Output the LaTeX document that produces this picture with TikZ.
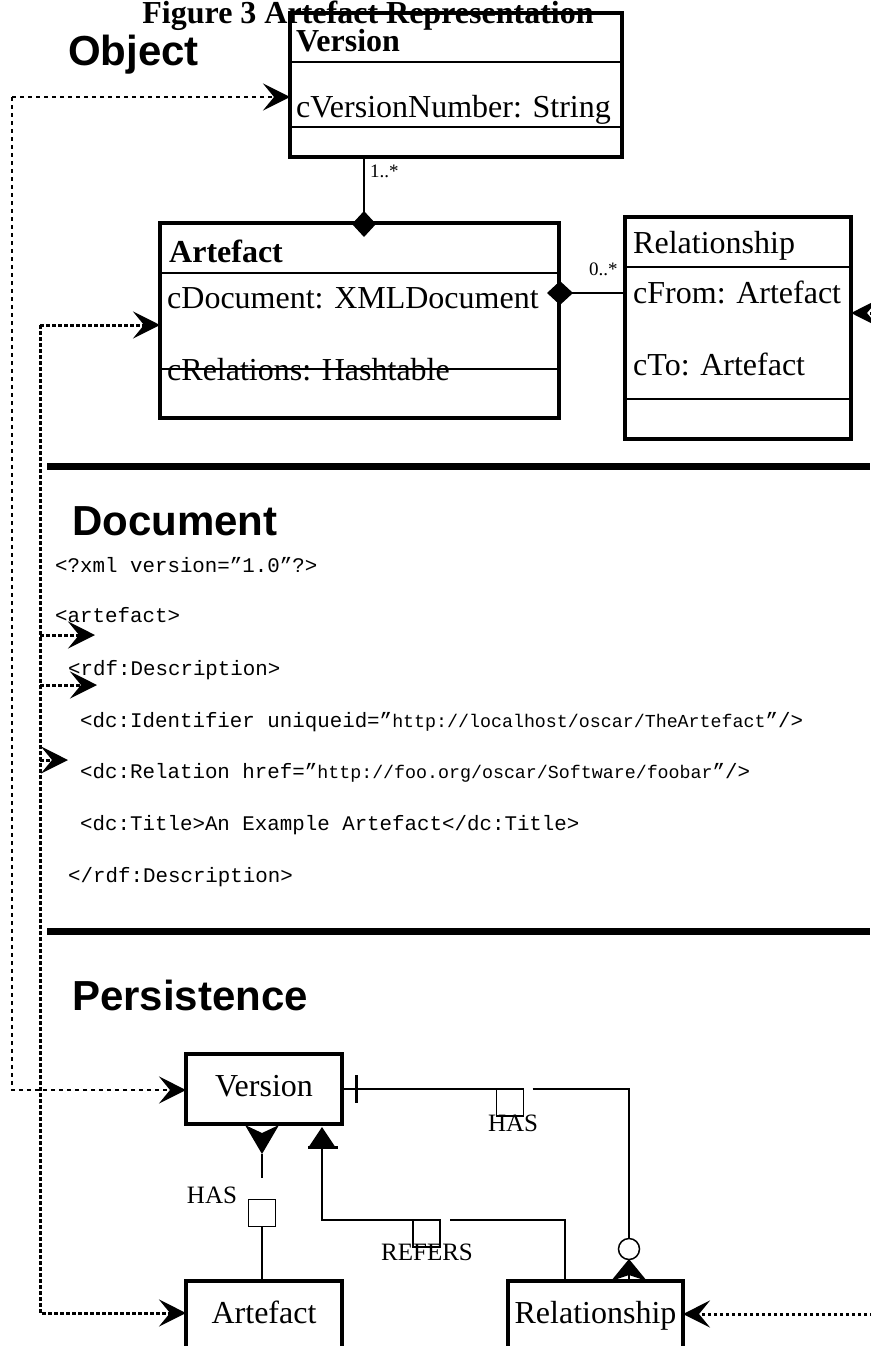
\documentclass[tikz,border=0pt]{standalone}
\usepackage{fontspec}
\setmainfont{Liberation Serif}
\setsansfont{Liberation Sans}
\setmonofont{Liberation Mono}
\usetikzlibrary{arrows.meta,calc}

\newcommand\clsfont{\fontsize{32}{38}\selectfont}
\newcommand\hdrfont{\fontsize{42}{50}\selectfont\sffamily\bfseries}
\newcommand\codefont{\fontsize{20.8}{25}\selectfont\ttfamily}
\newcommand\linkfont{\fontsize{18.3}{22}\selectfont}
\newcommand\lblfont{\fontsize{25}{30}\selectfont}
\newcommand\multfont{\fontsize{19}{23}\selectfont}

\begin{document}
\begin{tikzpicture}[
    x=1pt, y=-1pt,
    cls/.style={draw, line width=3.5pt, anchor=north west, inner sep=0pt, outer sep=0pt},
    sep/.style={line width=2.5pt},
    ent/.style={draw, line width=3.5pt, inner sep=0pt, outer sep=0pt, minimum height=70pt,
                text height=22pt, text depth=7pt, font=\clsfont},
    sq/.style={draw, line width=1.5pt, minimum size=27pt, inner sep=0pt, outer sep=0pt},
    txt/.style={anchor=base west, inner sep=0pt, font=\clsfont},
    hdr/.style={anchor=base west, inner sep=0pt, font=\hdrfont},
    code/.style={anchor=base west, inner sep=0pt, font=\codefont},
    lbl/.style={anchor=base, inner sep=0pt, font=\lblfont},
    mult/.style={anchor=base west, inner sep=0pt, font=\multfont},
    link/.style={line width=2pt},
    comp/.style={line width=2.5pt, -{Diamond[length=26pt, width=24pt]}},
    arr/.style={-{Stealth[length=27pt, width=27pt, inset=11pt]}},
    dashA/.style={line width=2pt, dash pattern=on 4pt off 4pt},
    dotB/.style={line width=3pt, dash pattern=on 3.5pt off 2.5pt}
]
\useasboundingbox (0,0) rectangle (870,1346);

\node[anchor=base, inner sep=0pt, font=\clsfont\bfseries] (title) at (368,24) {Figure 3 Artefact Representation};

% object layer
\node[hdr] (hobj) at (68,66) {Object};
\node[cls, minimum width=332pt, minimum height=144pt] (vobj) at (290,13) {};
\node[cls, minimum width=399pt, minimum height=195pt] (aobj) at (160,223) {};
\node[cls, minimum width=226pt, minimum height=222pt] (robj) at (625,217) {};
\foreach \b/\y in {vobj/62, vobj/127, aobj/273, aobj/369, robj/267, robj/399}
  \draw[sep] (\b.west |- 0,\y) -- (\b.east |- 0,\y);

\node[txt, font=\clsfont\bfseries] (vname) at (296,52) {Version};
\node[txt] (vattr) at (296,117) {cVersionNumber: String};
\node[txt, font=\clsfont\bfseries] (aname) at (169,262) {Artefact};
\node[txt] (adoc) at (167,308) {cDocument: XMLDocument};
\node[txt] (arel) at (167,380) {cRelations: Hashtable};
\node[txt] (rname) at (633,253) {Relationship};
\node[txt] (rfrom) at (633,303) {cFrom: Artefact};
\node[txt] (rto) at (633,375) {cTo: Artefact};

\node[mult] (m1) at (370,177) {1..*};
\node[mult] (m2) at (589,275) {0..*};

\draw[comp] ([xshift=74pt]vobj.south west) -- ++(0,80);
\draw[comp] (robj.west |- 0,293) -- ++(-78,0);

% document layer
\draw[line width=7pt] (47,466) -- (870,466);
\node[hdr] (hdoc) at (72,535) {Document};
\node[code] (x1) at (55,572) {<?xml version=”1.0”?>};
\node[code] (x2) at (55,622) {<artefact>};
\node[code] (x3) at (68,675) {<rdf:Description>};
\node[code] (x4) at (80,727) {<dc:Identifier uniqueid=”{\linkfont http://localhost/oscar/TheArtefact}”/>};
\node[code] (x5) at (80,778) {<dc:Relation href=”{\linkfont http://foo.org/oscar/Software/foobar}”/>};
\node[code] (x6) at (80,830) {<dc:Title>An Example Artefact</dc:Title>};
\node[code] (x7) at (68,882) {</rdf:Description>};
\draw[line width=7pt] (47,931) -- (870,931);

% persistence layer
\node[hdr] (hper) at (72,1010) {Persistence};
\node[ent, minimum width=156pt] (pver) at (264,1089) {Version};
\node[ent, minimum width=156pt] (part) at (264,1316) {Artefact};
\node[ent, minimum width=175pt] (prel) at (595.5,1316) {Relationship};

\node[sq] (sqa) at (262,1213) {};
\node[sq] (sqb) at (510,1102.5) {};
\node[sq] (sqc) at (426.5,1233.5) {};
\node[circle, draw, line width=1.5pt, minimum size=21pt, inner sep=0pt] (oc) at (629,1249) {};

\node[lbl] (la) at (212,1203) {HAS};
\node[lbl] (lb) at (513,1131) {HAS};
\node[lbl] (lc) at (427,1260) {REFERS};

% version has artefacts
\draw[link] (part.north -| sqa) -- (sqa.south);
\draw[link] ([yshift=22pt]sqa.north) -- ([yshift=-30pt]pver.south -| sqa);
\fill (pver.south -| sqa) ++(0,30) -- ++(-17,-29) -- ++(17,8) -- ++(17,-8) -- cycle;

% version has relationships
\draw[link] (pver.east) -- (sqb.north west);
\draw[line width=3pt] ([xshift=14pt]pver.east) ++(0,-14) -- ++(0,28);
\draw[link] ([xshift=9pt]sqb.north east) -| (oc.north);
\draw[link] (oc.south) -- (prel.north -| oc);
\fill (prel.north -| oc) ++(0,-22) -- ++(-18,22) -- ++(18,-6) -- ++(18,6) -- cycle;

% relationship refers to version
\draw[link] ([xshift=-30.5pt]prel.north) |- ([xshift=10pt]sqc.north east);
\draw[link] (sqc.north west) -| ([xshift=58pt, yshift=-24pt]pver.south);
\fill ([xshift=58pt, yshift=-3pt]pver.south) -- ++(-14,21) -- ++(28,0) -- cycle;
\draw[line width=3pt] ([xshift=44pt, yshift=-23pt]pver.south) -- ++(30,0);

% mappings between layers
\coordinate (ta) at (12,97);
\coordinate (tb) at (12,1090);
\draw[dashA, arr] (ta) -- (ta -| vobj.west);
\draw[dashA, arr] (ta) -- (tb) -- (tb -| pver.west);

\coordinate (sa) at (40,325);
\coordinate (sb) at (40,1313);
\draw[dotB, arr] (sa) -- (sa -| aobj.west);
\draw[dotB, arr] (sa) -- (sb) -- (sb -| part.west);
\foreach \y/\l in {635/55, 685/57, 760/28}
  \draw[dotB, arr] (sa |- 0,\y) -- ++(\l,0);

\coordinate (ra) at (885,313);
\coordinate (rb) at (885,1314);
\draw[dotB, arr] (ra) -- (ra -| robj.east);
\draw[dotB, arr] (rb) -- (rb -| prel.east);
\end{tikzpicture}
\end{document}
